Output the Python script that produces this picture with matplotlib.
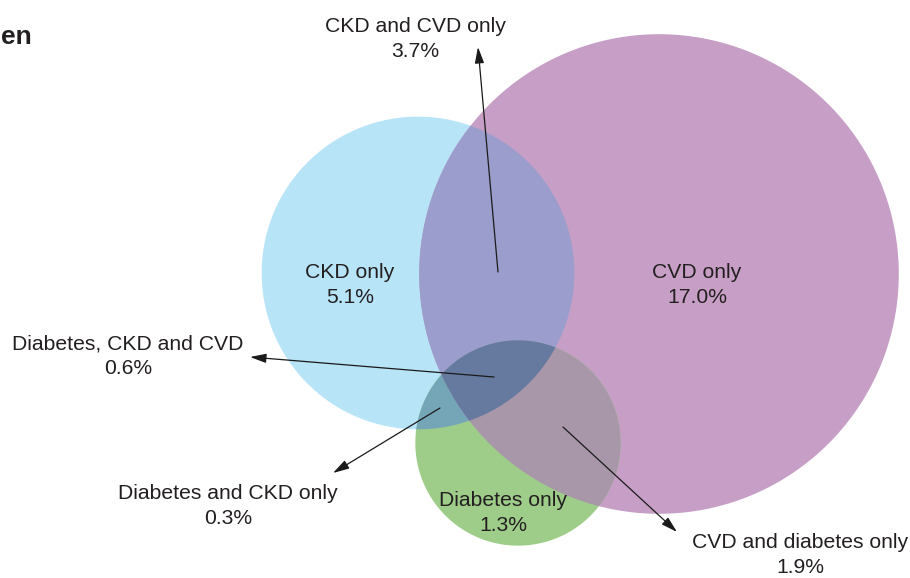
import numpy as np
import matplotlib
matplotlib.use("Agg")
import matplotlib.pyplot as plt
from matplotlib.patches import Polygon

# Share of population in each region of the Venn diagram (%)
region_names = ["CKD only", "CVD only", "Diabetes only",
                "CKD and CVD only", "Diabetes and CKD only",
                "CVD and diabetes only", "Diabetes, CKD and CVD"]
region_values = [5.1, 17.0, 1.3, 3.7, 0.3, 1.9, 0.6]
vals = dict(zip(region_names, region_values))

# Set totals drive circle areas
ckd_total = vals["CKD only"] + vals["CKD and CVD only"] + vals["Diabetes and CKD only"] + vals["Diabetes, CKD and CVD"]
cvd_total = vals["CVD only"] + vals["CKD and CVD only"] + vals["CVD and diabetes only"] + vals["Diabetes, CKD and CVD"]
dia_total = vals["Diabetes only"] + vals["Diabetes and CKD only"] + vals["CVD and diabetes only"] + vals["Diabetes, CKD and CVD"]

scale = 50.2  # pixels per sqrt(percent)
centers = {"CKD": (418, 273), "CVD": (659, 274), "DIA": (518, 443)}
radii = {"CKD": scale * np.sqrt(ckd_total),
         "CVD": scale * np.sqrt(cvd_total) - 2,
         "DIA": scale * np.sqrt(dia_total) + 1}

colors = {
    "CKD": "#b8e4f8",
    "CVD": "#c79fc6",
    "DIA": "#9ecd8a",
    "CKD&CVD": "#9b9ecc",
    "DIA&CKD": "#75a6b8",
    "DIA&CVD": "#a897a9",
    "ALL": "#667aa0",
}
text_color = "#231f20"


def circle_poly(name, n=720):
    cx, cy = centers[name]
    r = radii[name]
    t = np.linspace(0, 2 * np.pi, n, endpoint=False)
    return np.column_stack([cx + r * np.cos(t), cy + r * np.sin(t)])


def clip_convex(subject, clipper):
    """Sutherland-Hodgman clipping of a polygon by a convex polygon."""
    out = list(map(tuple, subject))
    cl = list(map(tuple, clipper))
    area = sum(cl[i][0] * cl[(i + 1) % len(cl)][1] - cl[(i + 1) % len(cl)][0] * cl[i][1]
               for i in range(len(cl)))
    sign = 1 if area > 0 else -1

    def inside(p, a, b):
        return sign * ((b[0] - a[0]) * (p[1] - a[1]) - (b[1] - a[1]) * (p[0] - a[0])) >= 0

    def intersect(p, q, a, b):
        x1, y1 = p; x2, y2 = q; x3, y3 = a; x4, y4 = b
        den = (x1 - x2) * (y3 - y4) - (y1 - y2) * (x3 - x4)
        t = ((x1 - x3) * (y3 - y4) - (y1 - y3) * (x3 - x4)) / den
        return (x1 + t * (x2 - x1), y1 + t * (y2 - y1))

    for i in range(len(cl)):
        a, b = cl[i], cl[(i + 1) % len(cl)]
        inp = out
        out = []
        if not inp:
            break
        s = inp[-1]
        for e in inp:
            if inside(e, a, b):
                if not inside(s, a, b):
                    out.append(intersect(s, e, a, b))
                out.append(e)
            elif inside(s, a, b):
                out.append(intersect(s, e, a, b))
            s = e
    return np.array(out)


W, H = 910, 578
fig = plt.figure(figsize=(W / 100, H / 100), dpi=100)
ax = fig.add_axes([0, 0, 1, 1])
ax.set_xlim(0, W)
ax.set_ylim(H, 0)
ax.axis("off")

polys = {k: circle_poly(k) for k in centers}
for k in ["CKD", "CVD", "DIA"]:
    ax.add_patch(Polygon(polys[k], closed=True, facecolor=colors[k], edgecolor="none"))

ckd_cvd = clip_convex(polys["CKD"], polys["CVD"])
dia_ckd = clip_convex(polys["DIA"], polys["CKD"])
dia_cvd = clip_convex(polys["DIA"], polys["CVD"])
triple = clip_convex(dia_ckd, polys["CVD"])
for poly, key in [(ckd_cvd, "CKD&CVD"), (dia_ckd, "DIA&CKD"),
                  (dia_cvd, "DIA&CVD"), (triple, "ALL")]:
    ax.add_patch(Polygon(poly, closed=True, facecolor=colors[key], edgecolor="none"))

fam = ["Liberation Sans", "DejaVu Sans"]
fs = 15.2


def label(name, x, y):
    ax.text(x, y, f"{name}\n{vals[name]:.1f}%", ha="center", va="center",
            fontsize=fs, family=fam, color=text_color, linespacing=1.38)


label("CKD only", 350, 285)
label("CVD only", 697, 285)
label("Diabetes only", 503, 513)
label("CKD and CVD only", 415, 39)
label("Diabetes, CKD and CVD", 128, 356)
label("Diabetes and CKD only", 228, 506)
label("CVD and diabetes only", 800, 555)

arrows = [
    ((498, 272), (478, 47)),
    ((494, 377), (250, 357)),
    ((440, 408), (333, 473)),
    ((563, 427), (677, 532)),
]
for start, end in arrows:
    ax.annotate("", xy=end, xytext=start,
                arrowprops=dict(arrowstyle="-|>,head_length=0.7,head_width=0.2",
                                color="#1a1a1a", lw=0.9, shrinkA=0, shrinkB=0,
                                mutation_scale=14))

ax.text(1, 37, "en", ha="left", va="center", fontsize=19, fontweight="bold",
        family=["Liberation Sans Narrow", "Liberation Sans", "DejaVu Sans"],
        color=text_color)

fig.savefig("out.png", dpi=100)
